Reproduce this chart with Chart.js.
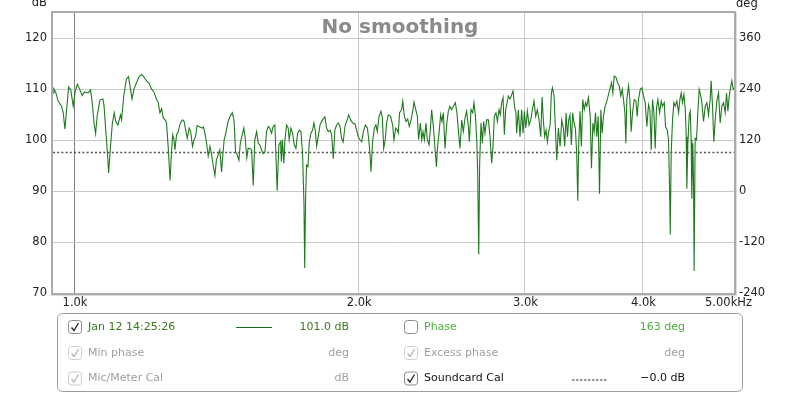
<!DOCTYPE html>
<html><head><meta charset="utf-8">
<script src="https://cdn.jsdelivr.net/npm/chart.js@4.4.1/dist/chart.umd.min.js"></script>
<style>html,body{margin:0;padding:0;background:#fff;overflow:hidden}canvas{display:block}</style>
</head><body>
<canvas id="c" width="800" height="395"></canvas>
<script>
// ---- data ----
const freqHz = [
 950,952,956,962,970,974,978,982,987,992,998,1003,1008,1014,1020,1026,1035,1041,1045,1050,1054,1058,1065,1073,1076,1080,1085,1088,1093,1098,1103,1107,1113,1120,1123,1129,1136,1142,1147,1152,1157,1164,1172,1179,1185,1193,1201,1208,1215,1223,1228,1233,1238,1243,1249,
 1253,1258,1264,1268,1272,1276,1279,1284,1289,1296,1303,1308,1313,1318,1324,1329,1335,1340,1345,1350,1359,1367,1371,1376,1381,1387,1393,1398,1404,1410,1415,1421,1427,1433,1438,1442,1448,1456,1463,1471,1477,1483,1489,1495,1500,1507,1513,1518,1524,1529,1535,1542,1548,1554,1561,1567,1573,1580,1586,1593,1599,1606,1612,1619,1625,1632,1636,1641,1648,1655,
 1658,1662,1668,1672,1679,1686,1690,1697,1704,1711,1718,1725,1732,1739,1746,1752,1755,1759,1763,1769,1775,1782,1789,1795,1801,1807,1814,1822,1833,1844,1851,1859,1867,1874,1882,1889,1897,1905,1913,1920,1928,1936,1944,1954,1963,1973,1984,1992,2000,2008,2017,2025,2035,2045,2051,2058,2063,2071,2080,2088,2095,2104,2114,2121,2128,2136,2143,2152,2164,2175,2182,2191,2200,
 2205,2212,2223,2229,2238,2247,2256,2265,2275,2284,2291,2301,2310,2317,2327,2335,2342,2350,2359,2367,2377,2384,2392,2402,2412,2420,2427,2437,2445,2453,2461,2471,2481,2491,2501,2511,2524,2534,2544,2553,2563,2574,2584,2595,2605,2616,2622,2633,2644,2652,2661,2669,2676,2683,2689,2698,2707,2715,2724,2735,2747,2758,2769,2778,2787,2798,2808,2819,2828,2837,2847,2856,2865,2875,2884,2896,2908,2917,
 2929,2938,2943,2955,2967,2979,2989,2999,3009,3021,3033,3046,3058,3070,3083,3095,3108,3121,3131,3141,3151,3162,3172,3182,3193,3203,3211,3224,3234,3245,3258,3272,3285,3298,3309,3320,3331,3341,3352,3363,3374,3385,3396,3407,3416,3424,3435,3446,3458,3470,3481,3492,3506,3521,3532,3544,3555,3567,3578,3590,3602,3614,3625,3637,3652,3667,3682,3697,3709,3721,3733,3751,3764,3779,3794,3807,3819,3832,3841,3850,
 3866,3879,3891,3904,3920,3936,3949,3961,3978,3994,4010,4026,4043,4059,4073,4086,4099,4113,4126,4139,4153,4170,4187,4200,4218,4231,4249,4262,4273,4280,4290,4304,4318,4332,4350,4368,4382,4396,4410,4425,4440,4450,4457,4468,4483,4494,4504,4511,4522,4530,4537,4548,4563,4578,4593,4608,4623,4642,4661,4680,4699,4718,4729,4745,4760,4776,4795,4815,4834,4854,4874,4894,4910,4926,4942,4958,4974,4990,5000
];
const levelDb = [
 109.3,110.1,109.5,107.7,106.7,105.4,102.2,106,110.5,109.9,106.7,109.7,111,110,108.8,109.5,109.3,109.9,107.7,103.4,101.3,104.7,107.9,108.1,106.7,102.4,97.4,93.6,98.8,103.4,105.4,103.7,103,105,104,108.7,112,112.5,110.3,108.1,110,111.2,112.5,112.9,112.5,111.7,111.2,110.1,109.5,108,107.4,105.4,106.2,104.4,104,
 103.4,98.8,92.1,97.4,101.1,100.1,98.1,101.1,101.6,103.4,104,103.7,102,100.4,102.4,101.7,98.8,100.1,100.7,102.9,102.6,102.4,102.6,101.4,99.7,96.9,98.8,97.4,95.1,93.1,96.1,97.1,98.1,93.8,97.4,100.1,101.4,103.7,104.7,105.4,104,97.7,97.1,96.1,99.4,101.1,102.4,100.4,96.6,98.4,98.4,98.1,91.1,100.1,101.7,99.4,99.1,98.1,97.4,97.7,101.7,102.7,102.4,101.4,102.7,103,97.4,90.1,99.1,99.7,
 95.8,100.1,95.5,99.7,103,102.4,100.1,102.4,101.4,99.1,98.4,101.4,102,101.7,97.4,87.5,74.9,88.8,95.1,94.8,99.7,101.4,102,103.4,102,98.8,100.7,103,104,104.6,102.4,101.7,102,101.1,96.4,102,103,103.4,102.7,100.4,99.7,102.7,103.7,105,104,103.4,103.2,102,100.7,100.1,99.7,101.7,103,102.4,100.4,97.4,93.8,99.7,102.4,103,101.7,104.7,105.7,104.4,98.4,100.1,103.4,105,104.7,103,100.1,102.4,102,
 101.4,105.4,106,107.7,104.7,103.7,104.2,102.7,104,105.7,107.5,106,104.7,100.1,103.4,100.1,101.7,100.1,103.4,100.1,99.1,102,106,102.7,98.1,94.8,98.8,102,105,103.7,105.4,98.4,103,105.7,106.7,106,106.8,107.4,105.4,102,98.4,104,101.7,104.4,105.7,102.7,99.7,106,105.4,107.4,105,100.7,94.1,77.6,95.5,103.4,99.4,103.7,101.4,104,104,100.7,95.5,98.8,104.7,105.4,103.7,106,105,107.4,108.4,101.1,106,107.4,108.7,108.1,109,109.7,
 106.4,105.4,101.4,106,100.7,106,101.4,105.7,102.4,105.7,103,104,106,107.7,104.7,106,104,100.7,108.5,104,100.7,102,99.7,101.7,103,109.3,110.3,108.7,102.7,96.1,102.4,98.8,104,102.4,98.8,105.4,100.7,104,105,99.1,105.4,103.4,102.4,97.4,88.1,99.4,105.7,98.8,108,106,107.4,106.7,108.4,104.7,94.5,103.4,101.7,105.4,100.7,104.7,89.5,106,101.4,104.7,106.7,107.7,109,110.3,111.3,109.3,112.6,112.3,111.3,110.7,108.7,110,108,105.4,99.4,108,
 110.7,108,101.7,105.4,108,107.7,104.7,108,110,110.3,108.7,107.4,102.7,107,106,98.1,108,105.4,98.4,106.4,108,105.4,107.7,106.7,107.4,102.7,102,100.1,90.8,81.5,97.4,104,107.4,106.7,107.7,105.4,108,109.3,107.4,109,106,100.7,90.5,99.4,105,105.7,100.1,88.5,99.4,92.1,74.3,100.4,100.1,105.4,110,109,107.4,103.7,106.7,107.4,105,108.1,111.7,106.7,99.7,104,107.7,109.3,103.4,106.7,107.4,105.4,109.3,105.7,108.7,110.3,111.7,110,110.3
];
const calLevelDb = 97.6;                 // Soundcard Cal dotted trace
const freqRange = [950, 5000];
const dbRange = [70, 125];
const degRange = [-240, 420];
const dbStep = 10, degStep = 120;
const xTickValues = [1000, 2000, 3000, 4000, 5000];
const xTickLabels = ['1.0k', '2.0k', '3.0k', '4.0k', '5.00kHz'];
const titleText = 'No smoothing';
const legendLeft = [
  {label:'Jan 12 14:25:26', value:'101.0 dB', state:'on', tone:'green', sample:'line'},
  {label:'Min phase', value:'deg', state:'dim', tone:'gray'},
  {label:'Mic/Meter Cal', value:'dB', state:'dim', tone:'gray'}
];
const legendRight = [
  {label:'Phase', value:'163 deg', state:'off', tone:'light'},
  {label:'Excess phase', value:'deg', state:'dim', tone:'gray'},
  {label:'Soundcard Cal', value:'\u22120.0 dB', state:'on', tone:'black', sample:'dots'}
];

// ---- styles ----
const FONT = '"DejaVu Sans", "Liberation Sans", sans-serif';
const TONES = {green:'#3b7a1e', gray:'#a0a0a0', light:'#4cb33a', black:'#111'};
const n = Math.min(freqHz.length, levelDb.length);
const mainPts = [];
for (let i = 0; i < n; i++) mainPts.push({x: freqHz[i], y: levelDb[i]});
const calPts = freqRange.map(f => ({x: f, y: calLevelDb}));

function roundRectPath(ctx, x, y, w, h, r) {
  ctx.beginPath();
  ctx.moveTo(x + r, y);
  ctx.lineTo(x + w - r, y); ctx.arcTo(x + w, y, x + w, y + r, r);
  ctx.lineTo(x + w, y + h - r); ctx.arcTo(x + w, y + h, x + w - r, y + h, r);
  ctx.lineTo(x + r, y + h); ctx.arcTo(x, y + h, x, y + h - r, r);
  ctx.lineTo(x, y + r); ctx.arcTo(x, y, x + r, y, r);
  ctx.closePath();
}
function checkbox(ctx, x, y, state) {
  roundRectPath(ctx, x + 0.5, y - 6.5, 13, 13, 3);
  ctx.fillStyle = '#fff'; ctx.fill();
  ctx.lineWidth = 1;
  ctx.strokeStyle = state === 'dim' ? '#cfcfcf' : '#8c8c8c';
  ctx.stroke();
  if (state !== 'off') {
    ctx.beginPath();
    ctx.moveTo(x + 3.5, y + 0.5);
    ctx.lineTo(x + 6, y + 3.5);
    ctx.lineTo(x + 10.5, y - 4);
    ctx.lineWidth = 1.4;
    ctx.strokeStyle = state === 'dim' ? '#b8b8b8' : '#2a2a2a';
    ctx.stroke();
  }
}

const decor = {
  id: 'decor',
  afterDraw(chart) {
    const {ctx, chartArea: a, scales} = chart;
    ctx.save();
    // frame
    ctx.strokeStyle = '#dcdcdc'; ctx.lineWidth = 1;
    ctx.beginPath();
    ctx.moveTo(a.left - 2.5, a.bottom + 2.5); ctx.lineTo(a.right + 2.5, a.bottom + 2.5); ctx.lineTo(a.right + 2.5, a.top - 1);
    ctx.stroke();
    ctx.strokeStyle = '#ababab'; ctx.lineWidth = 2;
    ctx.strokeRect(a.left - 1, a.top - 1, a.right - a.left + 2, a.bottom - a.top + 2);
    // title
    ctx.fillStyle = '#8a8a8a';
    ctx.font = 'bold 20px ' + FONT;
    ctx.textAlign = 'center'; ctx.textBaseline = 'alphabetic';
    ctx.fillText(titleText, chart.width / 2, 33);
    // units
    ctx.fillStyle = '#222';
    ctx.font = '11.5px ' + FONT;
    ctx.textAlign = 'right'; ctx.fillText('dB', a.left - 6, 6);
    ctx.textAlign = 'left'; ctx.fillText('deg', a.right + 2, 7);
    // x tick labels
    ctx.textBaseline = 'middle';
    xTickValues.forEach((v, i) => {
      const px = scales.x.getPixelForValue(v);
      const last = i === xTickValues.length - 1;
      ctx.textAlign = last ? 'right' : 'center';
      ctx.fillText(xTickLabels[i], last ? px + 18 : px + 1, a.bottom + 10.5);
    });
    // legend panel
    roundRectPath(ctx, 57.5, 313.5, 685, 78, 5);
    ctx.fillStyle = '#fff'; ctx.fill();
    ctx.strokeStyle = '#9c9c9c'; ctx.lineWidth = 1; ctx.stroke();
    const rowsY = [327, 353, 378.5];
    const cols = [
      {items: legendLeft, box: 68, text: 88, s0: 236, s1: 272, val: 349},
      {items: legendRight, box: 404, text: 424, s0: 572, s1: 607, val: 685}
    ];
    ctx.font = '11px ' + FONT;
    cols.forEach(c => c.items.forEach((it, r) => {
      const y = rowsY[r];
      checkbox(ctx, c.box, y, it.state);
      ctx.fillStyle = TONES[it.tone];
      ctx.textBaseline = 'middle';
      ctx.textAlign = 'left'; ctx.fillText(it.label, c.text, y);
      ctx.textAlign = 'right'; ctx.fillText(it.value, c.val, y);
      if (it.sample === 'line') {
        ctx.strokeStyle = '#1d6e1d'; ctx.lineWidth = 1;
        ctx.beginPath(); ctx.moveTo(c.s0, y + 0.5); ctx.lineTo(c.s1, y + 0.5); ctx.stroke();
      } else if (it.sample === 'dots') {
        ctx.strokeStyle = '#333'; ctx.lineWidth = 1; ctx.setLineDash([2.5, 1.5]);
        ctx.beginPath(); ctx.moveTo(c.s0, y + 1.5); ctx.lineTo(c.s1, y + 1.5); ctx.stroke();
        ctx.setLineDash([]);
      }
    }));
    ctx.restore();
  }
};

new Chart(document.getElementById('c'), {
  type: 'line',
  data: {
    datasets: [
      {data: mainPts, borderColor: '#1f7a1f', borderWidth: 1.1, pointRadius: 0, tension: 0, yAxisID: 'y', order: 1},
      {data: calPts, borderColor: '#555', borderWidth: 1.6, borderDash: [2, 2.2], pointRadius: 0, yAxisID: 'y', order: 2}
    ]
  },
  options: {
    responsive: false, animation: false, devicePixelRatio: 1,
    layout: {padding: {top: 13, left: 0, right: 0, bottom: 0}},
    plugins: {legend: {display: false}, tooltip: {enabled: false}},
    scales: {
      x: {
        type: 'logarithmic', min: freqRange[0], max: freqRange[1],
        afterBuildTicks: s => { s.ticks = xTickValues.map(v => ({value: v})); },
        afterFit: s => { s.height = 102; },
        ticks: {display: false},
        grid: {drawTicks: false, lineWidth: 1, color: c => (c.tick && c.tick.value === xTickValues[0]) ? '#7c7c7c' : '#c9c9c9'},
        border: {display: false}
      },
      y: {
        position: 'left', min: dbRange[0], max: dbRange[1],
        afterFit: s => { s.width = 53; },
        ticks: {stepSize: dbStep, includeBounds: false, padding: 6, color: '#222', font: {family: FONT, size: 11.5}},
        grid: {drawTicks: false, color: '#c9c9c9', lineWidth: 1},
        border: {display: false}
      },
      y2: {
        position: 'right', min: degRange[0], max: degRange[1],
        afterFit: s => { s.width = 66; },
        ticks: {stepSize: degStep, includeBounds: false, padding: 5, color: '#222', font: {family: FONT, size: 11.5}},
        grid: {display: false, drawTicks: false},
        border: {display: false}
      }
    }
  },
  plugins: [decor]
});
</script>
</body></html>
